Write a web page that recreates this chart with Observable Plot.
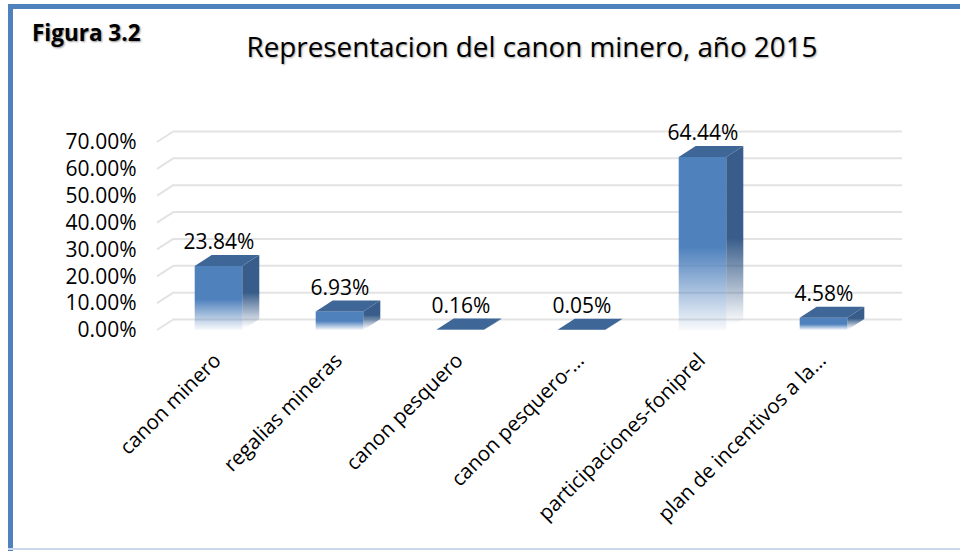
<!DOCTYPE html>
<html>
<head>
<meta charset="utf-8">
<script src="https://cdn.jsdelivr.net/npm/d3@7"></script>
<script src="https://cdn.jsdelivr.net/npm/@observablehq/plot@0.6"></script>
<style>
  html, body { margin: 0; padding: 0; background: #fff; }
  #wrap { position: relative; width: 960px; height: 551px; overflow: hidden; background: #fff;
          font-family: 'Open Sans', sans-serif; }
  .bt { position: absolute; left: 8px; top: 4px; width: 952px; height: 5px; background: #4f81bd; }
  .bl { position: absolute; left: 8px; top: 4px; width: 5px; height: 547px; background: #4f81bd; }
  .bb { position: absolute; left: 8px; top: 548px; width: 952px; height: 2px; background: #c9d8ec; }
  .fig { position: absolute; left: 32px; top: 22px; font-size: 22.5px; font-weight: bold; line-height: 1;
         color: #000; text-shadow: 1px 1px 2px rgba(0,0,0,0.45); white-space: nowrap; }
  .title { position: absolute; left: 0; width: 1064px; text-align: center; top: 33px; font-size: 27.8px;
           line-height: 1; color: #000; text-shadow: 1px 1px 2px rgba(0,0,0,0.35); white-space: nowrap; }
  #chart { position: absolute; left: 0; top: 100px; }
</style>
</head>
<body>
<div id="wrap">
  <div class="bt"></div>
  <div class="bl"></div>
  <div class="bb"></div>
  <div class="fig">Figura 3.2</div>
  <div class="title">Representacion del canon minero, año 2015</div>
  <div id="chart"></div>
</div>
<script>
const categories = ["canon minero", "regalias mineras", "canon pesquero", "canon pesquero-…", "participaciones-foniprel", "plan de incentivos a la…"];
const values = [23.84, 6.93, 0.16, 0.05, 64.44, 4.58];
const yTicks = [0, 10, 20, 30, 40, 50, 60, 70];

const data = categories.map((c, i) => ({cat: c, value: values[i]}));

const DX = 17, DY = 11, INSET = 36.7;

const plot = Plot.plot({
  width: 960,
  height: 451,
  marginLeft: 157,
  marginRight: 75,
  marginTop: 42,
  marginBottom: 221,
  style: {fontFamily: "'Open Sans', sans-serif", fontSize: "21px", color: "#000", background: "transparent", overflow: "visible"},
  x: {domain: categories, padding: 0, axis: null},
  y: {domain: [0, 70], axis: null},
  marks: [
    Plot.ruleY(yTicks, {stroke: "#e3e3e3", strokeWidth: 2, dx: DX, dy: -DY}),
    Plot.axisY(yTicks, {tickSize: 0, tickPadding: 21, tickFormat: d => d.toFixed(2) + "%", fontSize: 21, label: null, fill: "#000"}),
    Plot.barY(data, {x: "cat", y: "value", fill: "url(#frontGrad)", insetLeft: INSET, insetRight: INSET}),
    Plot.text(data, {x: "cat", y: "value", text: d => d.value.toFixed(2) + "%", dy: -24, fontSize: 21, fill: "#000"}),
    Plot.text(data, {x: "cat", text: "cat", frameAnchor: "bottom", rotate: -45, textAnchor: "end", lineAnchor: "top", dx: -7, dy: 21, fontSize: 20.5, fill: "#000"})
  ]
});

const svg = d3.select(plot);
const defs = svg.insert("defs", ":first-child");
const fg = defs.append("linearGradient").attr("id", "frontGrad").attr("x1", 0).attr("y1", 0).attr("x2", 0).attr("y2", 1);
fg.append("stop").attr("offset", 0).attr("stop-color", "#4f81bd");
fg.append("stop").attr("offset", 0.52).attr("stop-color", "#4f81bd");
fg.append("stop").attr("offset", 1).attr("stop-color", "#4f81bd").attr("stop-opacity", 0.04);
const sg = defs.append("linearGradient").attr("id", "sideGrad").attr("x1", 0).attr("y1", 0).attr("x2", 0).attr("y2", 1);
sg.append("stop").attr("offset", 0).attr("stop-color", "#385d8a");
sg.append("stop").attr("offset", 0.5).attr("stop-color", "#385d8a");
sg.append("stop").attr("offset", 0.97).attr("stop-color", "#385d8a").attr("stop-opacity", 0.0);

const xs = plot.scale("x"), ys = plot.scale("y");
const bw = xs.bandwidth;
const x0r = xs.range[0];

// left diagonal gridline stubs (side wall)
const g3 = svg.append("g");
yTicks.forEach(t => {
  g3.append("line")
    .attr("x1", x0r).attr("y1", ys.apply(t))
    .attr("x2", x0r + DX).attr("y2", ys.apply(t) - DY)
    .attr("stroke", "#e3e3e3").attr("stroke-width", 2);
});

// 3D side and top faces
data.forEach(d => {
  const xa = xs.apply(d.cat) + INSET;
  const xb = xs.apply(d.cat) + bw - INSET;
  const yt = ys.apply(d.value);
  const yb = ys.apply(0);
  g3.append("path")
    .attr("d", `M${xb},${yt}L${xb + DX},${yt - DY}L${xb + DX},${yb - DY}L${xb},${yb}Z`)
    .attr("fill", "url(#sideGrad)");
  g3.append("path")
    .attr("d", `M${xa},${yt}L${xa + DX},${yt - DY}L${xb + DX},${yt - DY}L${xb},${yt}Z`)
    .attr("fill", "#3e6697");
});

document.getElementById("chart").appendChild(plot);
</script>
</body>
</html>
